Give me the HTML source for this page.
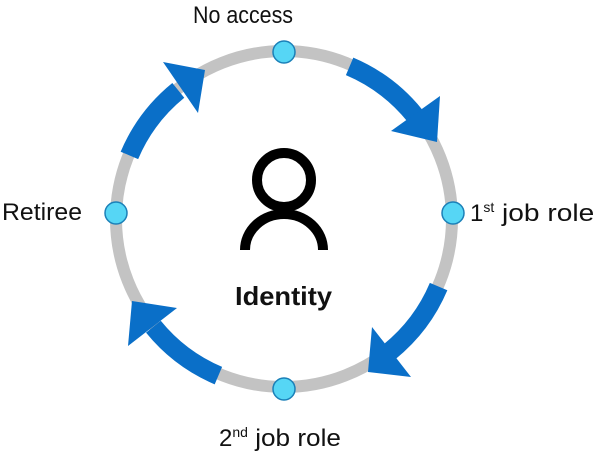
<!DOCTYPE html>
<html><head><style>
html,body{margin:0;padding:0;background:#fff;}
svg{display:block;}
text{font-family:"Liberation Sans",sans-serif;fill:#111;}
</style></head><body>
<svg width="610" height="456" viewBox="0 0 610 456" xmlns="http://www.w3.org/2000/svg">
<circle cx="284" cy="219" r="168" fill="none" stroke="#c3c3c3" stroke-width="12"/>
<g fill="none" stroke="#0a6fc8" stroke-width="19">
<path d="M438.6 286.6 A168 168 0 0 1 389.7 351.6"/>
<path d="M218.4 375.6 A168 168 0 0 1 153.4 326.7"/>
<path d="M129.4 155.4 A168 168 0 0 1 178.3 90.4"/>
<path d="M349.6 66.4 A168 168 0 0 1 414.6 115.3"/>
</g>
<g fill="#0a6fc8">
<polygon points="368,372 411,377 372,327"/>
<polygon points="132,301 128,346 177,308"/>
<polygon points="205,70 163,62 198,113"/>
<polygon points="437,142 440,96 391,131"/>
</g>
<g fill="#56d6f5" stroke="#1b80b8" stroke-width="1.5">
<circle cx="284" cy="52" r="11"/>
<circle cx="453" cy="213" r="11"/>
<circle cx="284" cy="389" r="11"/>
<circle cx="116" cy="213" r="11"/>
</g>
<g fill="none" stroke="#000" stroke-width="10">
<circle cx="284" cy="180" r="27"/>
<path d="M245 250 A39 36 0 0 1 323 250"/>
</g>
<text x="235" y="305" font-size="26" font-weight="bold" textLength="97" lengthAdjust="spacingAndGlyphs">Identity</text>
<text x="193" y="23" font-size="24" textLength="100" lengthAdjust="spacingAndGlyphs">No access</text>
<text x="2" y="220" font-size="24" textLength="80" lengthAdjust="spacingAndGlyphs">Retiree</text>
<text x="470" y="221" font-size="24">1<tspan font-size="14" dy="-9">st</tspan><tspan dy="9" textLength="100" lengthAdjust="spacingAndGlyphs"> job role</tspan></text>
<text x="219" y="446" font-size="24">2<tspan font-size="14" dy="-9">nd</tspan><tspan dy="9" textLength="93" lengthAdjust="spacingAndGlyphs"> job role</tspan></text>
</svg>
</body></html>
